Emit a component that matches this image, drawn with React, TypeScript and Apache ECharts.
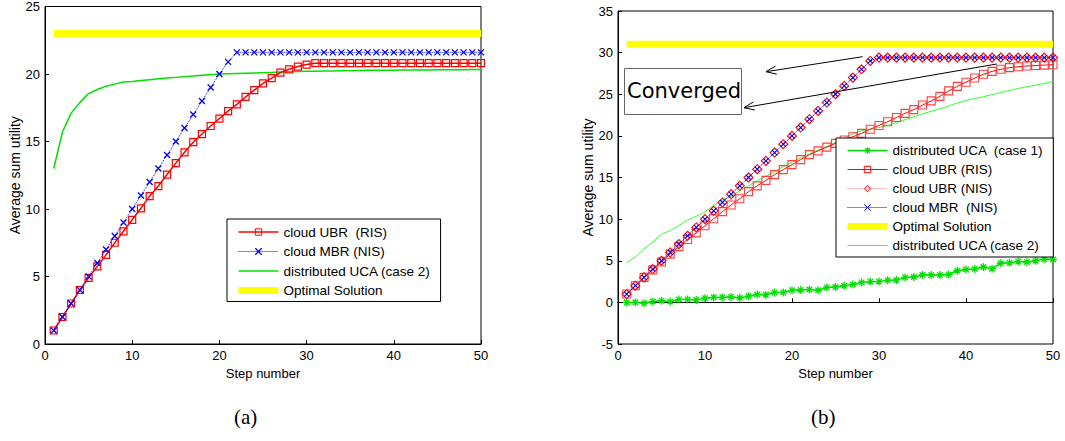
import React, { useEffect, useRef } from "react";
import * as echarts from "echarts";

// ---------- data ----------
const steps = [1,2,3,4,5,6,7,8,9,10,11,12,13,14,15,16,17,18,19,20,21,22,23,24,25,26,27,28,29,30,31,32,33,34,35,36,37,38,39,40,41,42,43,44,45,46,47,48,49,50];

// (a)
const ubrRisA = [1,2,3,4,4.9,5.75,6.6,7.5,8.35,9.2,10.05,10.95,11.7,12.55,13.4,14.2,14.95,15.55,16.15,16.7,17.25,17.75,18.3,18.8,19.3,19.7,20.1,20.35,20.55,20.7,20.8,20.8,20.8,20.8,20.8,20.8,20.8,20.8,20.8,20.8,20.8,20.8,20.8,20.8,20.8,20.8,20.8,20.8,20.8,20.8];
const mbrNisA = [1,2,3,4,5,6,7,8,9,10,11,12,13,14,15,16,17,18,19,20,20.9,21.6,21.6,21.6,21.6,21.6,21.6,21.6,21.6,21.6,21.6,21.6,21.6,21.6,21.6,21.6,21.6,21.6,21.6,21.6,21.6,21.6,21.6,21.6,21.6,21.6,21.6,21.6,21.6,21.6];
const ucaCase2A = [13.0,15.7,17.1,17.9,18.55,18.85,19.1,19.25,19.4,19.45,19.52,19.58,19.64,19.7,19.75,19.8,19.85,19.9,19.95,20.0,20.02,20.04,20.06,20.08,20.1,20.12,20.14,20.16,20.18,20.2,20.21,20.22,20.23,20.24,20.25,20.26,20.27,20.27,20.28,20.28,20.29,20.29,20.3,20.3,20.31,20.31,20.32,20.32,20.33,20.33];
const optimalStepsA = [1, 50];
const optimalA = [23, 23];

// (b)
const ucaCase1B = [0,0,-0.1,0.1,0.2,0.1,0.35,0.35,0.3,0.5,0.6,0.6,0.65,0.55,0.75,0.95,0.9,1.2,1.2,1.45,1.5,1.55,1.45,1.8,1.85,2.0,2.15,2.4,2.5,2.5,2.65,2.7,3.0,3.05,3.3,3.3,3.3,3.35,3.8,3.95,4.0,4.25,4.05,4.7,4.75,4.9,4.85,5.0,5.2,5.15];
const ubrRisB = [1,2,3,3.9,4.85,5.8,6.7,7.55,8.35,9.2,10.05,10.9,11.7,12.45,13.3,14.0,14.65,15.35,15.95,16.55,17.15,17.75,18.2,18.65,19.1,19.5,19.9,20.3,20.8,21.25,21.7,22.2,22.7,23.15,23.7,24.2,24.75,25.4,25.95,26.45,26.95,27.4,27.75,28.0,28.2,28.3,28.4,28.45,28.5,28.55];
const ubrNisB = [1,2,3,4,5,6,7,8,9,10,11,12,13,14,15,16,17,18,19,20,21,22,23,24,25,26,27,28,29,29.4,29.4,29.4,29.4,29.4,29.4,29.4,29.4,29.4,29.4,29.4,29.4,29.4,29.4,29.4,29.4,29.4,29.4,29.4,29.4,29.4];
const mbrNisB = [1,2,3,4,5,6,7,8,9,10,11,12,13,14,15,16,17,18,19,20,21,22,23,24,25,26,27,28,29,29.4,29.4,29.4,29.4,29.4,29.4,29.4,29.4,29.4,29.4,29.4,29.4,29.4,29.4,29.4,29.4,29.4,29.4,29.4,29.4,29.4];
const ucaCase2B = [4.75,5.45,6.45,7.25,8.2,8.6,9.25,9.9,10.35,10.85,11.65,12.3,12.75,13.4,14.0,14.6,15.15,15.75,16.3,16.85,17.35,17.85,18.3,18.75,19.2,19.7,20.25,20.6,20.8,21.0,21.25,21.6,21.95,22.3,22.65,22.95,23.25,23.6,23.95,24.25,24.5,24.7,24.95,25.2,25.45,25.7,25.9,26.1,26.3,26.55];
const optimalStepsB = [1, 50];
const optimalB = [31, 31];

const xTicks = [0, 10, 20, 30, 40, 50];

// ---------- styles ----------
const FONT = "'Liberation Sans', Arial, sans-serif";
const RED = "#ff0000";
const BLUE = "#0000ff";
const GREEN = "#00e000";
const LIGHTGREEN = "#33ff33";
const YELLOW = "#ffff00";

const SQUARE = "path://M0,0L10,0L10,10L0,10Z";
const CROSS = "path://M0,0L10,10M10,0L0,10";
const DIAMOND = "path://M5,0L10,5L5,10L0,5Z";
const STAR = "path://M5,0L5,10M0,5L10,5M1.5,1.5L8.5,8.5M8.5,1.5L1.5,8.5";
const CLEAR = "rgba(255,255,255,0)";

const pairs = (xs: number[], ys: number[]) => xs.map((x, i) => [x, ys[i]]);

function arrow(x1: number, y1: number, x2: number, y2: number) {
  const ang = Math.atan2(y1 - y2, x1 - x2);
  const L = 11, a = 0.38;
  return [
    { type: "line", shape: { x1, y1, x2, y2 }, style: { stroke: "#000", lineWidth: 1 }, z: 50 },
    {
      type: "polyline",
      shape: {
        points: [
          [x2 + L * Math.cos(ang + a), y2 + L * Math.sin(ang + a)],
          [x2, y2],
          [x2 + L * Math.cos(ang - a), y2 + L * Math.sin(ang - a)],
        ],
      },
      style: { stroke: "#000", lineWidth: 1, fill: "none" },
      z: 50,
    },
  ];
}

function xAxisCfg(gridIndex: number) {
  return {
    gridIndex,
    type: "value",
    min: 0,
    max: 50,
    interval: 10,
    name: "Step number",
    nameLocation: "middle",
    nameGap: 21,
    nameTextStyle: { color: "#000", fontSize: 13, fontFamily: FONT },
    axisLine: { show: true, lineStyle: { color: "#000", width: 1 } },
    axisTick: { show: true, inside: true, length: 4, lineStyle: { color: "#000" } },
    axisLabel: {
      color: "#000", fontSize: 13, fontFamily: FONT, margin: 5,
      formatter: (v: number) => (xTicks.indexOf(v) >= 0 ? String(v) : ""),
    },
    splitLine: { show: false },
  };
}

function yAxisCfg(gridIndex: number, min: number, max: number) {
  return {
    gridIndex,
    type: "value",
    min,
    max,
    interval: 5,
    name: "Average sum utility",
    nameLocation: "middle",
    nameGap: 23,
    nameTextStyle: { color: "#000", fontSize: 14, fontFamily: FONT },
    axisLine: { show: true, lineStyle: { color: "#000", width: 1 } },
    axisTick: { show: true, inside: true, length: 4, lineStyle: { color: "#000" } },
    axisLabel: { color: "#000", fontSize: 13, fontFamily: FONT, margin: 5 },
    splitLine: { show: false },
  };
}

const noSym = { opacity: 0, borderWidth: 0 };

export default function App() {
  const ref = useRef<HTMLDivElement>(null);
  useEffect(() => {
    if (!ref.current) return;
    const chart = echarts.init(ref.current, undefined, { renderer: "svg" });
    const option: any = {
      animation: false,
      backgroundColor: "#fff",
      textStyle: { fontFamily: FONT },
      grid: [
        { left: 45, top: 5, width: 436, height: 339, show: true, borderColor: "#000", borderWidth: 1, backgroundColor: "transparent" },
        { left: 618, top: 11, width: 435, height: 333, show: true, borderColor: "#000", borderWidth: 1, backgroundColor: "transparent" },
      ],
      xAxis: [xAxisCfg(0), xAxisCfg(1)],
      yAxis: [yAxisCfg(0, 0, 25), yAxisCfg(1, -5, 35)],
      legend: [
        {
          orient: "vertical", left: 227, top: 219,
          data: [
            { name: "cloud UBR  (RIS)", lineStyle: { width: 1.5, color: RED, type: "solid" }, itemStyle: { color: CLEAR, borderColor: RED, borderWidth: 1 } },
            { name: "cloud MBR (NIS)", lineStyle: { width: 1, color: BLUE, type: "dotted" }, itemStyle: { color: CLEAR, borderColor: BLUE, borderWidth: 1.3 } },
            { name: "distributed UCA (case 2)", lineStyle: { width: 1.5, color: GREEN, type: "solid" }, itemStyle: noSym },
            { name: "Optimal Solution", lineStyle: { width: 7, color: YELLOW, type: "solid" }, itemStyle: noSym },
          ],
          itemWidth: 40, itemHeight: 8, itemGap: 5.5,
          padding: [6, 10, 4, 8],
          borderColor: "#000", borderWidth: 1, backgroundColor: "#fff",
          selectedMode: false,
          textStyle: { color: "#000", fontSize: 13.5, fontFamily: FONT },
        },
        {
          orient: "vertical", left: 836, top: 138,
          data: [
            { name: "distributed UCA  (case 1)", lineStyle: { width: 1.5, color: GREEN, type: "solid" }, itemStyle: { color: CLEAR, borderColor: GREEN, borderWidth: 1.3 } },
            { name: "cloud UBR (RIS)", lineStyle: { width: 1, color: RED, type: "solid" }, itemStyle: { color: CLEAR, borderColor: RED, borderWidth: 1 } },
            { name: "cloud UBR (NIS)", lineStyle: { width: 1, color: "#ff8080", type: "dotted" }, itemStyle: { color: CLEAR, borderColor: RED, borderWidth: 1 } },
            { name: "cloud MBR  (NIS)", lineStyle: { width: 1, color: BLUE, type: "dotted" }, itemStyle: { color: CLEAR, borderColor: BLUE, borderWidth: 1 } },
            { name: "Optimal Solution ", lineStyle: { width: 7, color: YELLOW, type: "solid" }, itemStyle: noSym },
            { name: "distributed UCA (case 2) ", lineStyle: { width: 1.2, color: LIGHTGREEN, type: "solid" }, itemStyle: noSym },
          ],
          itemWidth: 40, itemHeight: 8, itemGap: 5,
          padding: [5.5, 10, 4.5, 8],
          borderColor: "#000", borderWidth: 1, backgroundColor: "#fff",
          selectedMode: false,
          textStyle: { color: "#000", fontSize: 13.5, fontFamily: FONT },
          z: 20,
        },
      ],
      series: [
        // ----- (a) -----
        {
          name: "cloud UBR  (RIS)", type: "line", xAxisIndex: 0, yAxisIndex: 0,
          data: pairs(steps, ubrRisA),
          symbol: SQUARE, symbolSize: 7, showAllSymbol: true,
          lineStyle: { color: RED, width: 1.5 },
          itemStyle: { color: CLEAR, borderColor: RED, borderWidth: 1.2 },
          z: 3,
        },
        {
          name: "cloud MBR (NIS)", type: "line", xAxisIndex: 0, yAxisIndex: 0,
          data: pairs(steps, mbrNisA),
          symbol: CROSS, symbolSize: 6, showAllSymbol: true,
          lineStyle: { color: BLUE, width: 1, type: "dotted" },
          itemStyle: { color: CLEAR, borderColor: BLUE, borderWidth: 1.3 },
          z: 4,
        },
        {
          name: "distributed UCA (case 2)", type: "line", xAxisIndex: 0, yAxisIndex: 0,
          data: pairs(steps, ucaCase2A), symbol: "none",
          lineStyle: { color: GREEN, width: 1.5 },
          itemStyle: { color: GREEN },
          z: 2,
        },
        {
          name: "Optimal Solution", type: "line", xAxisIndex: 0, yAxisIndex: 0,
          data: pairs(optimalStepsA, optimalA), symbol: "none",
          lineStyle: { color: YELLOW, width: 7 },
          itemStyle: { color: YELLOW },
          z: 2,
        },
        // ----- (b) -----
        {
          name: "distributed UCA  (case 1)", type: "line", xAxisIndex: 1, yAxisIndex: 1,
          data: pairs(steps, ucaCase1B),
          symbol: STAR, symbolSize: 8, showAllSymbol: true,
          lineStyle: { color: GREEN, width: 1.5 },
          itemStyle: { color: CLEAR, borderColor: GREEN, borderWidth: 1.3 },
          z: 3,
        },
        {
          name: "cloud UBR (RIS)", type: "line", xAxisIndex: 1, yAxisIndex: 1,
          data: pairs(steps, ubrRisB),
          symbol: SQUARE, symbolSize: 8, showAllSymbol: true,
          lineStyle: { color: RED, width: 1 },
          itemStyle: { color: CLEAR, borderColor: "#ff4040", borderWidth: 1.1 },
          z: 3,
        },
        {
          name: "cloud UBR (NIS)", type: "line", xAxisIndex: 1, yAxisIndex: 1,
          data: pairs(steps, ubrNisB),
          symbol: DIAMOND, symbolSize: 9, showAllSymbol: true,
          lineStyle: { color: "#ff8080", width: 1, type: "dotted" },
          itemStyle: { color: CLEAR, borderColor: RED, borderWidth: 1.1 },
          z: 4,
        },
        {
          name: "cloud MBR  (NIS)", type: "line", xAxisIndex: 1, yAxisIndex: 1,
          data: pairs(steps, mbrNisB),
          symbol: CROSS, symbolSize: 5, showAllSymbol: true,
          lineStyle: { color: BLUE, width: 1, type: "dotted" },
          itemStyle: { color: CLEAR, borderColor: BLUE, borderWidth: 1.1 },
          z: 5,
        },
        {
          name: "Optimal Solution ", type: "line", xAxisIndex: 1, yAxisIndex: 1,
          data: pairs(optimalStepsB, optimalB), symbol: "none",
          lineStyle: { color: YELLOW, width: 7 },
          itemStyle: { color: YELLOW },
          z: 2,
        },
        {
          name: "distributed UCA (case 2) ", type: "line", xAxisIndex: 1, yAxisIndex: 1,
          data: pairs(steps, ucaCase2B), symbol: "none",
          lineStyle: { color: LIGHTGREEN, width: 1 },
          itemStyle: { color: LIGHTGREEN },
          z: 2,
        },
      ],
      graphic: [
        {
          type: "text", left: 234, top: 406,
          style: { text: "(a)", fill: "#000", fontSize: 21, fontFamily: "'Liberation Serif', 'Times New Roman', serif" },
        },
        {
          type: "text", left: 811, top: 406,
          style: { text: "(b)", fill: "#000", fontSize: 21, fontFamily: "'Liberation Serif', 'Times New Roman', serif" },
        },
        {
          type: "rect", shape: { x: 624.5, y: 68.5, width: 117, height: 46 },
          style: { fill: "#fff", stroke: "#666", lineWidth: 1 }, z: 40,
        },
        {
          type: "text", x: 627, y: 80,
          style: { text: "Converged", fill: "#000", fontSize: 21, fontFamily: "'DejaVu Sans', sans-serif" },
          z: 41,
        },
        ...arrow(862.7, 56.7, 766, 71.7),
        ...arrow(996.7, 64, 744, 107.7),
      ],
    };
    chart.setOption(option);
    return () => chart.dispose();
  }, []);
  return (
    <div
      ref={ref}
      style={{ position: "absolute", left: 0, top: 0, width: 1065, height: 441, background: "#fff" }}
    />
  );
}
